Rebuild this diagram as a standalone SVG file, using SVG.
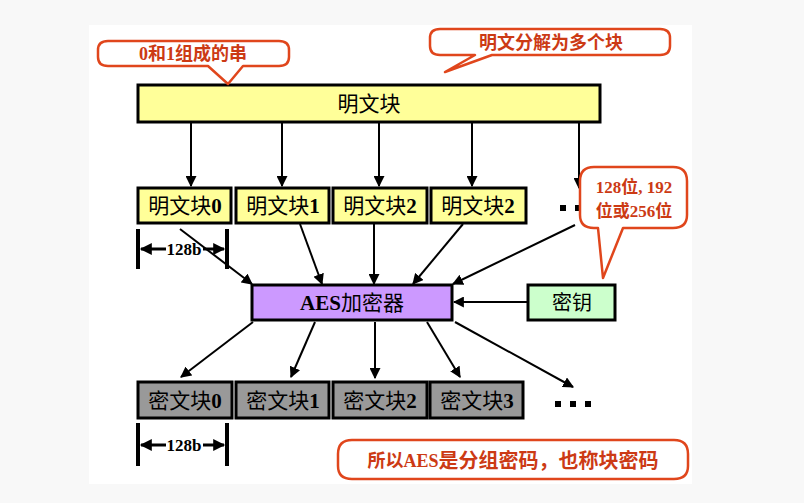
<svg xmlns="http://www.w3.org/2000/svg" width="804" height="503" viewBox="0 0 804 503">
<style>
.box{stroke:#000;stroke-width:3}
.pt{fill:#ffff99}
.ct{fill:#999999}
.t{font-family:"Liberation Serif","Noto Sans CJK SC",serif;font-size:21px;fill:#000;text-anchor:middle;dominant-baseline:central}
.b{font-weight:bold}
.call{fill:#fff;stroke:#e0461c;stroke-width:2.5;stroke-linejoin:round}
.ctext{font-family:"Liberation Serif","Noto Sans CJK SC",serif;font-weight:bold;fill:#cc3a14;text-anchor:middle;dominant-baseline:central}
.ar{stroke:#000;stroke-width:2;fill:none;marker-end:url(#ah)}
.dim{stroke:#000;stroke-width:4}
.dl{stroke:#000;stroke-width:3;marker-end:url(#dh)}
.dot{fill:#000}
</style>
<defs>
<marker id="ah" viewBox="0 0 10 10" refX="9" refY="5" markerWidth="5.5" markerHeight="5.5" orient="auto" markerUnits="strokeWidth">
<path d="M0,0 L10,5 L0,10 z" fill="#000"/>
</marker>
<marker id="dh" viewBox="0 0 10 10" refX="9" refY="5" markerWidth="4.5" markerHeight="4" orient="auto" markerUnits="strokeWidth">
<path d="M0,0 L10,5 L0,10 z" fill="#000"/>
</marker>
</defs>
<rect x="0" y="0" width="804" height="503" fill="#f8f8f8"/>
<rect x="89" y="25" width="603" height="459" fill="#ffffff"/>

<g id="connectors">
<line class="ar" x1="191" y1="122" x2="191" y2="186"/>
<line class="ar" x1="282" y1="122" x2="282" y2="186"/>
<line class="ar" x1="379" y1="122" x2="379" y2="186"/>
<line class="ar" x1="472" y1="122" x2="472" y2="186"/>
<line class="ar" x1="579" y1="122" x2="579" y2="188"/>
<line class="ar" x1="180" y1="229" x2="252" y2="284"/>
<line class="ar" x1="300" y1="224" x2="322" y2="284"/>
<line class="ar" x1="374" y1="224" x2="374" y2="284"/>
<line class="ar" x1="463" y1="224" x2="413" y2="284"/>
<line class="ar" x1="575" y1="225" x2="453" y2="284"/>
<line class="ar" x1="528" y1="302" x2="454" y2="302"/>
<line class="ar" x1="253" y1="322" x2="181" y2="377"/>
<line class="ar" x1="315" y1="322" x2="291" y2="377"/>
<line class="ar" x1="375" y1="322" x2="375" y2="378"/>
<line class="ar" x1="427" y1="322" x2="460" y2="377"/>
<line class="ar" x1="455" y1="322" x2="573" y2="387"/>
</g>

<g id="plain-block">
<rect class="box pt" x="138" y="85" width="462" height="37"/>
<text class="t" x="369" y="104">明文块</text>
</g>
<g id="plain0"><rect class="box pt" x="138" y="188" width="93" height="35"/><text class="t" x="185" y="206">明文块<tspan class="b">0</tspan></text></g>
<g id="plain1"><rect class="box pt" x="236" y="188" width="93" height="35"/><text class="t" x="283" y="206">明文块<tspan class="b">1</tspan></text></g>
<g id="plain2"><rect class="box pt" x="333" y="188" width="94" height="35"/><text class="t" x="380" y="206">明文块<tspan class="b">2</tspan></text></g>
<g id="plain3"><rect class="box pt" x="431" y="188" width="95" height="35"/><text class="t" x="478" y="206">明文块<tspan class="b">2</tspan></text></g>
<g id="plain-dots">
<rect class="dot" x="560" y="205" width="6" height="6"/><rect class="dot" x="575" y="205" width="6" height="6"/><rect class="dot" x="590" y="205" width="6" height="6"/>
</g>

<g id="dim-top">
<line class="dim" x1="138" y1="229" x2="138" y2="269"/>
<line class="dim" x1="227" y1="229" x2="227" y2="269"/>
<line class="dl" x1="166" y1="249" x2="141" y2="249"/>
<line class="dl" x1="203" y1="249" x2="224" y2="249"/>
<text class="t b" x="184" y="249" style="font-size:17px">128b</text>
</g>

<g id="aes">
<rect class="box" fill="#cc99ff" x="252" y="285" width="200" height="35"/>
<text class="t b" x="352" y="303">AES<tspan font-weight="normal">加密器</tspan></text>
</g>
<g id="key">
<rect class="box" fill="#ccffcc" x="528" y="285" width="87" height="35"/>
<text class="t" x="572" y="303" style="font-size:20px">密钥</text>
</g>

<g id="cipher0"><rect class="box ct" x="138" y="382" width="94" height="36"/><text class="t" x="185" y="401">密文块<tspan class="b">0</tspan></text></g>
<g id="cipher1"><rect class="box ct" x="236" y="382" width="93" height="36"/><text class="t" x="283" y="401">密文块<tspan class="b">1</tspan></text></g>
<g id="cipher2"><rect class="box ct" x="333" y="382" width="94" height="36"/><text class="t" x="380" y="401">密文块<tspan class="b">2</tspan></text></g>
<g id="cipher3"><rect class="box ct" x="430" y="382" width="93" height="36"/><text class="t" x="477" y="401">密文块<tspan class="b">3</tspan></text></g>
<g id="cipher-dots">
<rect class="dot" x="555" y="401" width="6" height="6"/><rect class="dot" x="570" y="401" width="6" height="6"/><rect class="dot" x="585" y="401" width="6" height="6"/>
</g>

<g id="dim-bottom">
<line class="dim" x1="138" y1="423" x2="138" y2="466"/>
<line class="dim" x1="227" y1="423" x2="227" y2="466"/>
<line class="dl" x1="166" y1="445" x2="141" y2="445"/>
<line class="dl" x1="203" y1="445" x2="224" y2="445"/>
<text class="t b" x="184" y="445" style="font-size:17px">128b</text>
</g>

<g id="callout-string">
<path class="call" d="M108,41 L279,41 Q289,41 289,50 L289,57 Q289,66 279,66 L243,66 L228,84 L208,66 L108,66 Q98,66 98,57 L98,50 Q98,41 108,41 Z"/>
<text class="ctext" x="193" y="54" style="font-size:18px">0和1组成的串</text>
</g>
<g id="callout-split">
<path class="call" d="M440,29 L660,29 Q670,29 670,38 L670,46 Q670,55 660,55 L492,55 L445,72 L475,55 L440,55 Q430,55 430,46 L430,38 Q430,29 440,29 Z"/>
<text class="ctext" x="551" y="43" style="font-size:18px">明文分解为多个块</text>
</g>
<g id="callout-bits">
<path class="call" d="M594,167 L673,167 Q687,167 687,181 L687,215 Q687,228 673,228 L623,228 L603,278 L598,228 L594,228 Q580,228 580,215 L580,181 Q580,167 594,167 Z"/>
<text class="ctext" x="634" y="187" style="font-size:17px">128位, 192</text>
<text class="ctext" x="634" y="211" style="font-size:17px">位或256位</text>
</g>
<g id="callout-summary">
<path class="call" d="M352,440 L674,440 Q688,440 688,454 L688,466 Q688,479 674,479 L352,479 Q338,479 338,466 L338,454 Q338,440 352,440 Z"/>
<text class="ctext" x="513" y="461" style="font-size:20px"><tspan style="font-size:18px">所以AES</tspan>是分组密码，也称块密码</text>
</g>
</svg>
